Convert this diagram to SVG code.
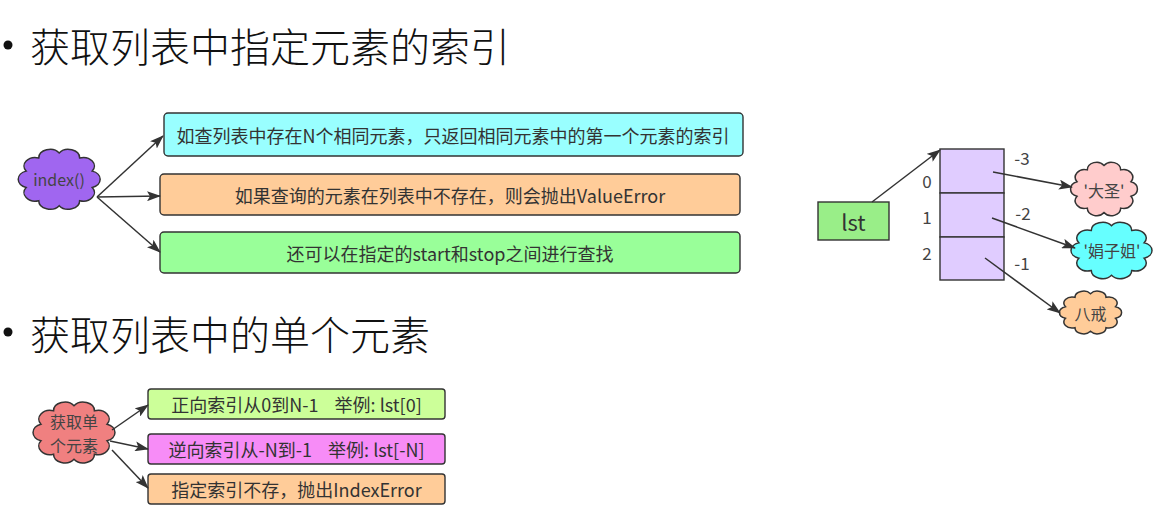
<svg xmlns="http://www.w3.org/2000/svg" width="1173" height="519" viewBox="0 0 1173 519">
<defs>
<marker id="arr" viewBox="0 0 14 10" refX="13" refY="5" markerWidth="14" markerHeight="10" markerUnits="userSpaceOnUse" orient="auto">
<path d="M0,0 L14,5 L0,10 L3,5 z" fill="#333"/>
</marker>
</defs>
<style>
text{font-family:"Noto Sans CJK SC","Noto Sans",sans-serif;fill:#333;dominant-baseline:central}
.title{font-size:40px;fill:#111;font-weight:300}
.t{font-size:18px;text-anchor:middle}
.ct{font-size:16px;text-anchor:middle;fill:#444}
.box{stroke:#333;stroke-width:1.4}
.cl{stroke:#333;stroke-width:1.5}
.conn line{stroke:#333;stroke-width:1.5;marker-end:url(#arr)}
.num{font-size:17px;text-anchor:middle;fill:#444}
</style>
<rect width="1173" height="519" fill="#fff"/>

<g id="title1">
<circle cx="8" cy="45" r="4.5" fill="#111"/>
<text class="title" x="30" y="45">获取列表中指定元素的索引</text>
</g>
<g id="title2">
<circle cx="8" cy="332" r="4.5" fill="#111"/>
<text class="title" x="30" y="333">获取列表中的单个元素</text>
</g>

<g id="index-cloud">
<path d="M50,10 A13,13 0 0 1 73.5,17.6 A13,13 0 0 1 88,37.6 A13,13 0 0 1 88,62.4 A13,13 0 0 1 73.5,82.4 A13,13 0 0 1 50,90 A13,13 0 0 1 26.5,82.4 A13,13 0 0 1 12,62.4 A13,13 0 0 1 12,37.6 A13,13 0 0 1 26.5,17.6 A13,13 0 0 1 50,10 Z" transform="translate(15.7,146.3) scale(0.87,0.66)" fill="#a066f0" class="cl" vector-effect="non-scaling-stroke"/>
<text class="ct" x="59" y="179">index()</text>
</g>

<g id="box1">
<rect class="box" x="164" y="113" width="579" height="43" rx="4" fill="#99ffff"/>
<text class="t" x="453" y="135">如查列表中存在N个相同元素，只返回相同元素中的第一个元素的索引</text>
</g>
<g id="box2">
<rect class="box" x="160" y="174" width="580" height="41" rx="4" fill="#ffcc99"/>
<text class="t" x="450" y="195">如果查询的元素在列表中不存在，则会抛出ValueError</text>
</g>
<g id="box3">
<rect class="box" x="160" y="232" width="580" height="41" rx="4" fill="#99ff99"/>
<text class="t" x="450" y="253">还可以在指定的start和stop之间进行查找</text>
</g>

<g id="lst">
<rect class="box" x="818" y="202" width="71" height="38" fill="#99ee88"/>
<text x="853.5" y="221" style="font-size:22px;text-anchor:middle">lst</text>
</g>
<g id="array">
<rect class="box" x="940" y="149" width="64" height="44" fill="#e0ccff"/>
<rect class="box" x="940" y="193" width="64" height="44" fill="#e0ccff"/>
<rect class="box" x="940" y="237" width="64" height="43" fill="#e0ccff"/>
<text class="num" x="927" y="180">0</text>
<text class="num" x="927" y="216">1</text>
<text class="num" x="927" y="252">2</text>
<text class="num" x="1022" y="157">-3</text>
<text class="num" x="1023" y="212">-2</text>
<text class="num" x="1022" y="262">-1</text>
</g>

<g id="dasheng">
<path d="M50,10 A13,13 0 0 1 73.5,17.6 A13,13 0 0 1 88,37.6 A13,13 0 0 1 88,62.4 A13,13 0 0 1 73.5,82.4 A13,13 0 0 1 50,90 A13,13 0 0 1 26.5,82.4 A13,13 0 0 1 12,62.4 A13,13 0 0 1 12,37.6 A13,13 0 0 1 26.5,17.6 A13,13 0 0 1 50,10 Z" transform="translate(1068.5,159.5) scale(0.71,0.59)" fill="#ffcccc" class="cl" vector-effect="non-scaling-stroke"/>
<text class="ct" x="1104" y="190">'大圣'</text>
</g>
<g id="juanzijie">
<path d="M50,10 A13,13 0 0 1 73.5,17.6 A13,13 0 0 1 88,37.6 A13,13 0 0 1 88,62.4 A13,13 0 0 1 73.5,82.4 A13,13 0 0 1 50,90 A13,13 0 0 1 26.5,82.4 A13,13 0 0 1 12,62.4 A13,13 0 0 1 12,37.6 A13,13 0 0 1 26.5,17.6 A13,13 0 0 1 50,10 Z" transform="translate(1068.5,219.5) scale(0.86,0.62)" fill="#66ffff" class="cl" vector-effect="non-scaling-stroke"/>
<text class="ct" x="1112" y="250">'娟子姐'</text>
</g>
<g id="bajie">
<path d="M50,10 A13,13 0 0 1 73.5,17.6 A13,13 0 0 1 88,37.6 A13,13 0 0 1 88,62.4 A13,13 0 0 1 73.5,82.4 A13,13 0 0 1 50,90 A13,13 0 0 1 26.5,82.4 A13,13 0 0 1 12,62.4 A13,13 0 0 1 12,37.6 A13,13 0 0 1 26.5,17.6 A13,13 0 0 1 50,10 Z" transform="translate(1057.5,289) scale(0.66,0.47)" fill="#ffcc99" class="cl" vector-effect="non-scaling-stroke"/>
<text class="ct" x="1090.5" y="313">八戒</text>
</g>

<g id="single-cloud">
<path d="M50,10 A13,13 0 0 1 73.5,17.6 A13,13 0 0 1 88,37.6 A13,13 0 0 1 88,62.4 A13,13 0 0 1 73.5,82.4 A13,13 0 0 1 50,90 A13,13 0 0 1 26.5,82.4 A13,13 0 0 1 12,62.4 A13,13 0 0 1 12,37.6 A13,13 0 0 1 26.5,17.6 A13,13 0 0 1 50,10 Z" transform="translate(30.5,399) scale(0.87,0.67)" fill="#f08080" class="cl" vector-effect="non-scaling-stroke"/>
<text class="ct" x="74" y="421">获取单</text>
<text class="ct" x="74" y="445">个元素</text>
</g>

<g id="boxA">
<rect class="box" x="148" y="389" width="297" height="30" rx="3" fill="#ccff99"/>
<text class="t" x="296.5" y="404" xml:space="preserve">正向索引从0到N-1    举例: lst[0]</text>
</g>
<g id="boxB">
<rect class="box" x="148" y="434" width="297" height="30" rx="3" fill="#f78cf7"/>
<text class="t" x="296.5" y="449" xml:space="preserve">逆向索引从-N到-1    举例: lst[-N]</text>
</g>
<g id="boxC">
<rect class="box" x="148" y="474" width="297" height="30" rx="3" fill="#ffcc99"/>
<text class="t" x="296.5" y="489">指定索引不存，抛出IndexError</text>
</g>

<g id="connectors" class="conn">
<line x1="97" y1="197" x2="163" y2="136"/>
<line x1="97" y1="197" x2="160" y2="196"/>
<line x1="97" y1="197" x2="160" y2="252"/>
<line x1="872" y1="202" x2="940" y2="150"/>
<line x1="993" y1="172" x2="1072" y2="187"/>
<line x1="992" y1="218" x2="1075" y2="248"/>
<line x1="985" y1="258" x2="1060" y2="313"/>
<line x1="112" y1="430" x2="148" y2="405"/>
<line x1="110" y1="441" x2="148" y2="449"/>
<line x1="112" y1="450" x2="148" y2="488"/>
</g>
</svg>
